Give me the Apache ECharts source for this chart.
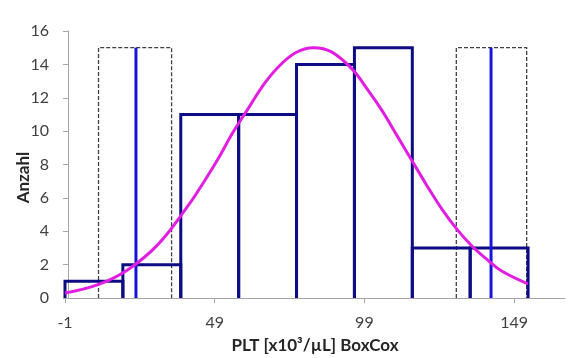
<!DOCTYPE html>
<html>
<head>
<meta charset="utf-8">
<script src="https://cdn.jsdelivr.net/npm/echarts@6/dist/echarts.min.js"></script>
<style>
  html, body { margin: 0; padding: 0; background: #fff; }
  #chart { width: 571px; height: 358px; }
</style>
</head>
<body>
<div id="chart"></div>
<script>
// Histogram bins: lower edge, upper edge, count
const binEdges = [-1, 18.33, 37.67, 57, 76.33, 95.67, 115, 134.33, 153.67];
const binCounts = [1, 2, 11, 11, 14, 15, 3, 3];

// Fitted normal curve, sampled points
const curveX = [-1, 10, 20, 30, 40, 45, 50, 55, 60, 65, 70, 76, 82, 88, 95, 100, 105, 110, 115, 120, 125, 130, 135, 140, 145, 153.6];
const curveY = [0.3, 0.8, 1.7, 3.2, 5.5, 6.85, 8.3, 9.9, 11.3, 12.7, 13.8, 14.7, 15.0, 14.75, 13.7, 12.5, 11.2, 9.7, 8.2, 6.7, 5.3, 4.1, 3.1, 2.3, 1.6, 0.85];

// Reference lines and their confidence boxes
const refLineX = [22.7, 141.3];
const refLineTop = 15;
const ciBoxes = [[10.2, 34.6], [129.7, 153.2]];
const ciTop = 15;

// Axis tick labels
const xTicks = [-1, 49, 99, 149];

const histData = binCounts.map((c, i) => [binEdges[i], binEdges[i + 1], c]);
const boxData = ciBoxes.map(b => [b[0], b[1], ciTop]);
const refData = refLineX.map(x => [x, refLineTop]);
const curveData = curveX.map((x, i) => [x, curveY[i]]);

const FONT = 'Lato';

// Outline of a bar standing on the x axis (left side, top, right side)
function openRect(params, api, style) {
  const x0 = api.value(0), x1 = api.value(1), h = api.value(2);
  const a = api.coord([x0, 0]);
  const b = api.coord([x0, h]);
  const c = api.coord([x1, h]);
  const d = api.coord([x1, 0]);
  return {
    type: 'polyline',
    shape: { points: [a, b, c, d] },
    style: Object.assign({ fill: null }, style)
  };
}

const chart = echarts.init(document.getElementById('chart'), null, { renderer: 'canvas' });
chart.setOption({
  animation: false,
  backgroundColor: '#ffffff',
  grid: { left: 65, right: 6, top: 31, bottom: 60, containLabel: false, outerBoundsMode: 'none' },
  xAxis: {
    type: 'value',
    min: -1,
    max: 166,
    name: 'PLT [x10³/µL] BoxCox',
    nameLocation: 'middle',
    nameGap: 39,
    nameMoveOverlap: false,
    nameTextStyle: { fontFamily: FONT, fontWeight: 'bold', fontSize: 17, color: '#262626' },
    axisLine: { show: true, onZero: false, lineStyle: { color: '#a6a6a6', width: 1 } },
    axisTick: { show: true, length: 5, customValues: xTicks, lineStyle: { color: '#a6a6a6' } },
    axisLabel: { customValues: xTicks, margin: 17, fontFamily: FONT, fontSize: 16, color: '#404040' },
    splitLine: { show: false }
  },
  yAxis: {
    type: 'value',
    min: 0,
    max: 16,
    interval: 2,
    name: 'Anzahl',
    nameLocation: 'middle',
    nameGap: 33,
    nameRotate: 90,
    nameMoveOverlap: false,
    nameTextStyle: { fontFamily: FONT, fontWeight: 'bold', fontSize: 17, color: '#262626', padding: [0, 26, 0, 0] },
    axisLine: { show: true, lineStyle: { color: '#a6a6a6', width: 1 } },
    axisTick: { show: true, length: 5, lineStyle: { color: '#a6a6a6' } },
    axisLabel: { margin: 16, fontFamily: FONT, fontSize: 16, color: '#404040' },
    splitLine: { show: false }
  },
  series: [
    {
      name: 'ci',
      type: 'custom',
      data: boxData,
      encode: { x: [0, 1], y: 2 },
      renderItem: (p, api) => openRect(p, api, { stroke: '#404040', lineWidth: 1.3, lineDash: [4, 2] }),
      z: 1
    },
    {
      name: 'hist',
      type: 'custom',
      data: histData,
      encode: { x: [0, 1], y: 2 },
      renderItem: (p, api) => openRect(p, api, { stroke: '#0c0c85', lineWidth: 3 }),
      z: 2
    },
    {
      name: 'ref',
      type: 'custom',
      data: refData,
      encode: { x: 0, y: 1 },
      renderItem: (p, api) => {
        const a = api.coord([api.value(0), 0]);
        const b = api.coord([api.value(0), api.value(1)]);
        return {
          type: 'line',
          shape: { x1: a[0], y1: a[1], x2: b[0], y2: b[1] },
          style: { stroke: '#1414dc', lineWidth: 3 }
        };
      },
      z: 3
    },
    {
      name: 'fit',
      type: 'line',
      data: curveData,
      smooth: 0.4,
      showSymbol: false,
      lineStyle: { color: '#e11ee1', width: 3 },
      z: 4
    }
  ]
});
</script>
</body>
</html>
